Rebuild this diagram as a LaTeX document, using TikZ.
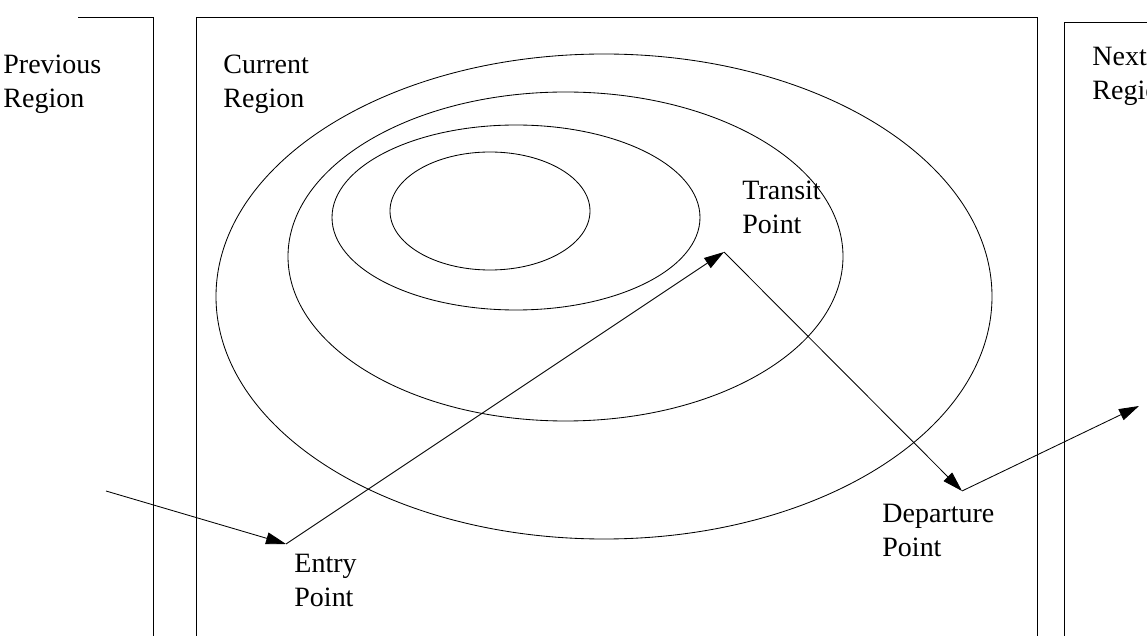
\documentclass[tikz,border=0pt]{standalone}
\usepackage{fontspec}
\setmainfont{Liberation Serif}
\usetikzlibrary{arrows.meta}
\begin{document}
\begin{tikzpicture}[
x=0.025cm,
y=-0.025cm,
line width=0.6pt,
region/.style={
draw=black
},
contour/.style={
draw=black
},
label/.style={
anchor=base west,
align=left,
inner sep=0pt,
font=\fontsize{19.9}{24.8}\selectfont
},
arrow/.style={
-{Triangle[length=0.5cm,width=0.3cm]},
draw=black
}
]
\useasboundingbox (0,0) rectangle (1147,636);
\clip (0,0) rectangle (1147,636);

% regions
\draw[region] (78,17) -- (153,17) -- (153,650);
\draw[region] (196,650) -- (196,17) -- (1037,17) -- (1037,650);
\draw[region] (1064,650) -- (1064,22) -- (1160,22);

% contours of the current region
\draw[contour] (604,296.5) ellipse [x radius=388, y radius=242.5];
\draw[contour] (565.5,256.5) ellipse [x radius=277.5, y radius=164.5];
\draw[contour] (516,217.5) ellipse [x radius=184, y radius=92.5];
\draw[contour] (490,211) ellipse [x radius=100, y radius=59];

% labels (anchored at the baseline of the last line)
\node[label] (previous) at (3,108) {Previous\\Region};
\node[label] (current) at (223,108) {Current\\Region};
\node[label] (next) at (1092,100) {Next\\Region};
\node[label] (transitlabel) at (742,234) {Transit\\Point};
\node[label] (entrylabel) at (294,607) {Entry\\Point};
\node[label] (departurelabel) at (882,557) {Departure\\Point};

% path points
\coordinate (start) at (106,491);
\coordinate (entry) at (286,544);
\coordinate (transit) at (724,252);
\coordinate (departure) at (962,491);
\coordinate (exit) at (1139,406);

\draw[arrow] (start) -- (entry);
\draw[arrow] (entry) -- (transit);
\draw[arrow] (transit) -- (departure);
\draw[arrow] (departure) -- (exit);

\end{tikzpicture}
\end{document}
